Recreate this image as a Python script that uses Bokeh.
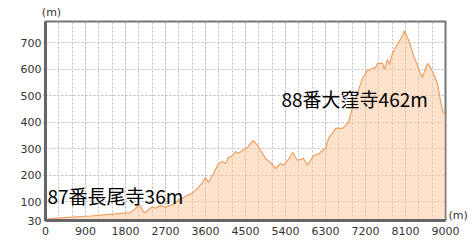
from bokeh.plotting import figure
from bokeh.models import FixedTicker, Range1d, Label, LinearAxis
from bokeh.embed import file_html
from bokeh.resources import INLINE

dist_m = [0, 337, 1012, 1575, 1912, 2002, 2115, 2205, 2250, 2340, 2407, 2475, 2587, 2700,
          2857, 2992, 3105, 3330, 3442, 3532, 3600, 3667, 3780, 3892, 3982, 4050, 4117,
          4207, 4275, 4342, 4432, 4545, 4612, 4680, 4770, 4882, 4950, 5062, 5175, 5287,
          5355, 5467, 5557, 5670, 5805, 5895, 6030, 6142, 6232, 6300, 6367, 6457, 6525,
          6682, 6750, 6817, 6930, 7020, 7132, 7245, 7425, 7470, 7582, 7627, 7695, 7740,
          7807, 7875, 7942, 8032, 8077, 8145, 8212, 8280, 8370, 8437, 8482, 8550, 8595,
          8662, 8730, 8820, 8887, 8932, 9000]
elev_m = [35, 40, 47, 55, 60, 72, 90, 62, 60, 75, 82, 76, 87, 80,
          90, 105, 117, 136, 155, 173, 192, 173, 207, 245, 252, 245, 268,
          275, 290, 283, 294, 305, 320, 331, 313, 283, 264, 249, 226, 245,
          238, 260, 286, 256, 264, 238, 275, 280, 294, 301, 339, 358, 377,
          377, 388, 400, 471, 510, 565, 595, 607, 622, 622, 600, 637, 618,
          660, 682, 701, 727, 745, 720, 690, 652, 615, 584, 569, 603, 622,
          607, 584, 546, 482, 445, 425]

x_ticks = [0, 900, 1800, 2700, 3600, 4500, 5400, 6300, 7200, 8100, 9000]
x_minor = list(range(0, 9001, 300))
y_ticks = [30, 100, 200, 300, 400, 500, 600, 700]
unit_label = "(m)"

labels_text = ["87番長尾寺36m", "88番大窪寺462m"]
labels_x = [45, 5310]
labels_y = [125, 488]

p = figure(width=473, height=247, output_backend="svg", toolbar_location=None,
           x_range=Range1d(0, 9000), y_range=Range1d(30, 780),
           min_border_left=45, min_border_right=28, min_border_top=21, min_border_bottom=27)
p.background_fill_color = "white"
p.border_fill_color = "white"
p.outline_line_color = "#777777"
p.outline_line_width = 2

p.varea(x=dist_m, y1=[30] * len(dist_m), y2=elev_m, fill_color="#F9C9A0", fill_alpha=0.55)
p.line(dist_m, elev_m, line_color="#F0A060", line_width=1.2)

p.xaxis.ticker = FixedTicker(ticks=x_ticks, minor_ticks=x_minor)
p.yaxis.ticker = FixedTicker(ticks=y_ticks)
for ax in (p.xaxis[0], p.yaxis[0]):
    ax.major_label_text_font = "DejaVu Sans"
    ax.major_label_text_font_size = "11px"
    ax.major_label_text_color = "#333333"
    ax.axis_line_color = "#666666"
    ax.axis_line_width = 3
    ax.major_tick_line_color = None
    ax.minor_tick_line_color = None
    ax.major_label_standoff = 2
p.xaxis.major_label_standoff = 0
p.yaxis.major_tick_line_color = "#666666"
p.yaxis.major_tick_out = 2
p.yaxis.major_tick_in = 0

p.xgrid.grid_line_color = "#bbbbbb"
p.xgrid.grid_line_dash = "2 2"
p.xgrid.minor_grid_line_color = "#bbbbbb"
p.xgrid.minor_grid_line_dash = "2 2"
p.ygrid.grid_line_color = "#bbbbbb"
p.ygrid.grid_line_dash = "2 2"

for t, lx, ly in zip(labels_text, labels_x, labels_y):
    p.add_layout(Label(x=lx, y=ly, text=t, text_font="Noto Sans CJK JP",
                       text_font_size="19px", text_color="black", text_baseline="alphabetic"))

# unit labels as tick-less axes
top_unit = LinearAxis(ticker=FixedTicker(ticks=[135]), major_label_overrides={135: unit_label})
right_unit = LinearAxis(ticker=FixedTicker(ticks=[48]), major_label_overrides={48: unit_label})
for ax in (top_unit, right_unit):
    ax.axis_line_color = None
    ax.major_tick_line_color = None
    ax.minor_tick_line_color = None
    ax.major_label_text_font = "DejaVu Sans"
    ax.major_label_text_font_size = "11px"
    ax.major_label_text_color = "#333333"
    ax.major_label_standoff = 3
    ax.major_tick_out = 0
    ax.major_tick_in = 0
p.add_layout(top_unit, "above")
p.add_layout(right_unit, "right")

out = file_html(p, INLINE)
open("out.html", "w").write(out)
